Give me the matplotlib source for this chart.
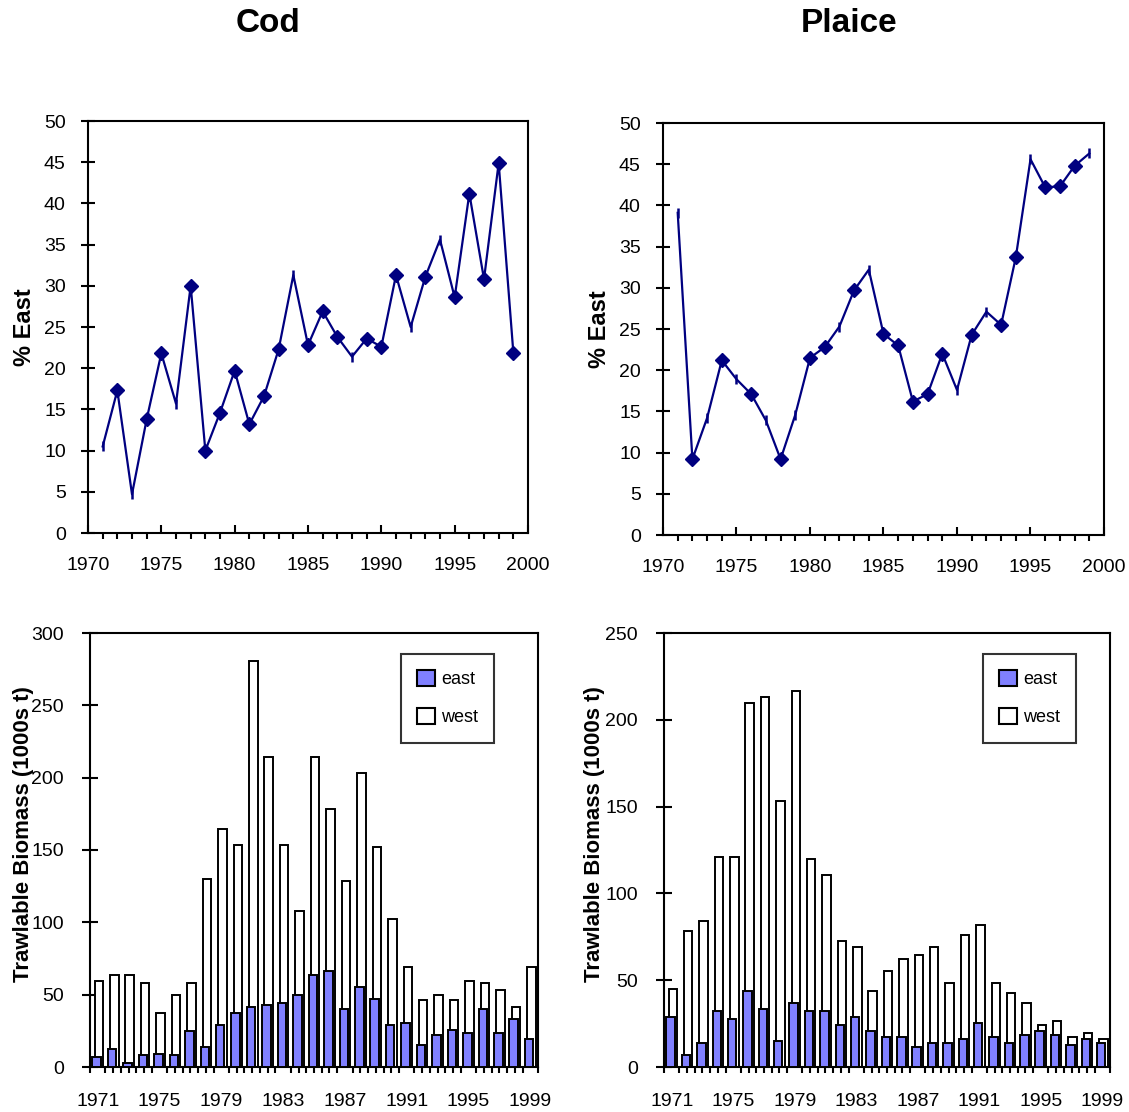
import numpy as np
import matplotlib
matplotlib.use('Agg')
import matplotlib.pyplot as plt
from matplotlib.ticker import MultipleLocator, FixedLocator
from matplotlib.patches import Patch

plt.rcParams['font.family'] = ['Liberation Sans', 'DejaVu Sans']

# --- data ---
years = list(range(1971, 2000))

cod_pct_east = [10.5, 17.3, 4.7, 13.8, 21.8, 15.7, 30.0, 10.0, 14.6, 19.7,
                13.2, 16.6, 22.3, 31.3, 22.8, 26.9, 23.8, 21.4, 23.6, 22.6,
                31.3, 25.0, 31.1, 35.6, 28.6, 41.2, 30.8, 44.9, 21.9]
cod_dash_years = [1971, 1973, 1976, 1984, 1988, 1992, 1994]

plaice_pct_east = [39.1, 9.2, 14.2, 21.2, 18.9, 17.1, 13.9, 9.2, 14.6, 21.5,
                   22.8, 25.3, 29.7, 32.2, 24.4, 23.0, 16.2, 17.1, 22.0, 17.6,
                   24.3, 27.1, 25.5, 33.7, 45.6, 42.2, 42.3, 44.8, 46.3]
plaice_dash_years = [1971, 1973, 1975, 1977, 1979, 1982, 1984, 1990, 1992, 1995, 1999]

cod_east = [7, 12.2, 2.8, 8.1, 9.2, 8.1, 24.7, 13.8, 28.8, 37.3,
            41.5, 42.6, 44.2, 50.0, 63.8, 66.4, 40.3, 55.3, 47.2, 29.3,
            30.6, 15.4, 22.4, 25.3, 23.7, 40.3, 23.7, 33.4, 19.6]
cod_west = [59.4, 63.4, 63.4, 58.1, 37.3, 49.5, 58.1, 130.2, 164.5, 153.2,
            280.6, 214.3, 153.2, 107.8, 214.3, 178.3, 128.6, 203.2, 152.1, 102.3,
            69.1, 46.1, 50.0, 46.1, 59.4, 58.1, 53.0, 41.5, 69.1]

plaice_east = [28.8, 6.7, 13.8, 32.3, 27.6, 43.8, 33.4, 15.0, 36.9, 32.3,
               32.3, 24.2, 28.8, 20.7, 17.3, 17.3, 11.5, 13.8, 13.8, 16.1,
               25.3, 17.3, 13.8, 18.4, 20.7, 18.4, 12.7, 16.1, 13.8]
plaice_west = [44.9, 78.3, 84.1, 121.0, 121.0, 209.7, 213.1, 153.2, 216.6, 119.8,
               110.6, 72.6, 69.1, 43.8, 55.3, 62.2, 64.5, 69.1, 48.4, 76.0,
               81.8, 48.4, 42.6, 36.9, 24.2, 26.5, 17.3, 19.6, 16.1]

bar_tick_years = [1971, 1975, 1979, 1983, 1987, 1991, 1995, 1999]

NAVY = '#000080'
EAST_COL = '#8080FF'

fig = plt.figure(figsize=(11.29, 11.12), dpi=100)
fig.patch.set_facecolor('white')

tick_fs = 14


def line_panel(ax, vals, dash_years, lab_x):
    ax.plot(years, vals, color=NAVY, lw=1.6, zorder=2)
    dx = [y for y in years if y in dash_years]
    dv = [v for y, v in zip(years, vals) if y in dash_years]
    mx = [y for y in years if y not in dash_years]
    mv = [v for y, v in zip(years, vals) if y not in dash_years]
    ax.plot(mx, mv, ls='none', marker='D', ms=7.5, color=NAVY, zorder=3)
    ax.plot(dx, dv, ls='none', marker='|', ms=7, mew=1.8, color=NAVY, zorder=3)
    ax.set_xlim(1970, 2000)
    ax.set_ylim(0, 50)
    ax.xaxis.set_major_locator(MultipleLocator(5))
    ax.xaxis.set_minor_locator(MultipleLocator(1))
    ax.yaxis.set_major_locator(MultipleLocator(5))
    ax.tick_params(axis='x', which='major', direction='in', length=6, width=1.5,
                   labelsize=tick_fs, pad=17)
    ax.tick_params(axis='x', which='minor', direction='out', length=4, width=1.5)
    ax.tick_params(axis='y', which='major', direction='inout', length=10, width=1.5,
                   labelsize=tick_fs, pad=11)
    for s in ax.spines.values():
        s.set_linewidth(1.5)
    ax.set_ylabel('% East', fontsize=17, fontweight='bold')
    ax.yaxis.set_label_coords(lab_x, 0.5)


def bar_panel(ax, east, west, ymax, ystep, lab_x):
    x = np.arange(len(years))
    ax.bar(x + 0.07, west, width=0.55, color='white', edgecolor='black', lw=1.4, zorder=2)
    ax.bar(x - 0.07, east, width=0.55, color=EAST_COL, edgecolor='black', lw=1.4, zorder=3)
    ax.set_xlim(-0.5, len(years) - 0.5)
    ax.set_ylim(0, ymax)
    ax.yaxis.set_major_locator(MultipleLocator(ystep))
    ax.xaxis.set_major_locator(FixedLocator([years.index(y) for y in bar_tick_years]))
    ax.set_xticklabels([str(y) for y in bar_tick_years])
    ax.xaxis.set_minor_locator(MultipleLocator(0.5))
    ax.tick_params(axis='x', which='major', length=0, labelsize=tick_fs, pad=19)
    ax.tick_params(axis='x', which='minor', direction='out', length=4.5, width=1.5)
    ax.tick_params(axis='y', which='major', direction='inout', length=11.5, width=1.5,
                   labelsize=tick_fs, pad=13)
    for s in ax.spines.values():
        s.set_linewidth(1.5)
    ax.set_ylabel('Trawlable Biomass (1000s t)', fontsize=16, fontweight='bold')
    ax.yaxis.set_label_coords(lab_x, 0.537)


# top row
ax1 = fig.add_axes([88 / 1129, 1 - 533 / 1112, 440 / 1129, 412 / 1112])
line_panel(ax1, cod_pct_east, cod_dash_years, -0.118)
ax2 = fig.add_axes([663 / 1129, 1 - 535 / 1112, 441 / 1129, 412 / 1112])
line_panel(ax2, plaice_pct_east, plaice_dash_years, -0.119)

fig.text(268 / 1129, 1 - 23 / 1112, 'Cod', fontsize=24, fontweight='bold',
         ha='center', va='center')
fig.text(849 / 1129, 1 - 23 / 1112, 'Plaice', fontsize=24, fontweight='bold',
         ha='center', va='center')

# bottom row
ax3 = fig.add_axes([90 / 1129, 1 - 1067 / 1112, 448 / 1129, 434 / 1112])
bar_panel(ax3, cod_east, cod_west, 300, 50, -0.125)
ax4 = fig.add_axes([664 / 1129, 1 - 1067 / 1112, 446 / 1129, 434 / 1112])
bar_panel(ax4, plaice_east, plaice_west, 250, 50, -0.132)

handles = [Patch(facecolor=EAST_COL, edgecolor='black', lw=1.5, label='east'),
           Patch(facecolor='white', edgecolor='black', lw=1.5, label='west')]
for ax, bx in [(ax3, 0.902), (ax4, 0.924)]:
    leg = ax.legend(handles=handles, loc='upper right', bbox_to_anchor=(bx, 0.952),
                    fontsize=13, frameon=True, fancybox=False, handlelength=1.0,
                    handleheight=1.0, handletextpad=0.3, labelspacing=1.1,
                    borderpad=0.9, borderaxespad=0)
    leg.get_frame().set_edgecolor('black')
    leg.get_frame().set_linewidth(1.5)

fig.savefig('out.png', dpi=100, facecolor='white')
